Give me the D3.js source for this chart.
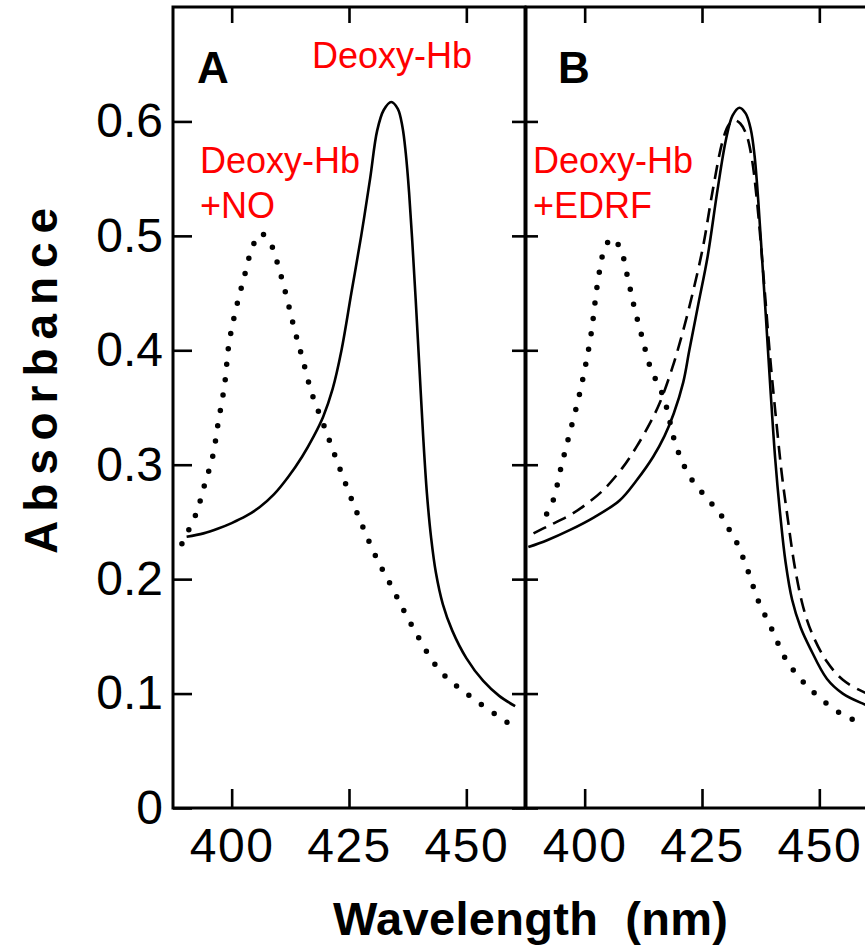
<!DOCTYPE html>
<html>
<head>
<meta charset="utf-8">
<script src="https://cdn.jsdelivr.net/npm/d3@7"></script>
<style>
  html, body { margin: 0; padding: 0; background: #fff; }
  svg { display: block; }
</style>
</head>
<body>
<svg id="chart" width="865" height="947"></svg>
<script>
// ---- Data ----
const xTicks = [400, 425, 450];
const yTicks = [0, 0.1, 0.2, 0.3, 0.4, 0.5, 0.6];
const xDomain = [387.5, 462.5];
const yDomain = [0, 0.7];

// Panel A: Deoxy-Hb (solid)
const deoxyA = [
  [390.4,0.237],[394.0,0.240],[397.0,0.244],[400.0,0.249],[403.0,0.255],[406.0,0.263],
  [409.0,0.274],[412.0,0.289],[415.0,0.307],[417.5,0.325],[419.5,0.342],[421.5,0.366],
  [423.4,0.400],[425.5,0.450],[427.6,0.500],[429.5,0.550],[431.0,0.592],[432.4,0.610],
  [434.0,0.617],[435.4,0.611],[436.4,0.595],[437.1,0.572],[437.8,0.538],[438.5,0.494],
  [439.2,0.445],[440.0,0.385],[440.8,0.325],[441.6,0.275],[442.5,0.236],[443.5,0.206],
  [445.0,0.178],[447.0,0.155],[450.0,0.131],[453.6,0.111],[457.0,0.098],[460.4,0.089]
];
// Panel A: Deoxy-Hb + NO (dotted)
const noA = [
  [389.4,0.231],[392.4,0.257],[394.2,0.282],[396.0,0.308],[397.1,0.336],[398.5,0.370],
  [399.4,0.405],[400.8,0.434],[402.6,0.463],[404.5,0.491],[406.2,0.502],[408.2,0.494],
  [410.1,0.471],[411.8,0.445],[413.4,0.418],[415.2,0.391],[417.1,0.362],[419.5,0.336],
  [423.0,0.297],[426.9,0.256],[430.8,0.219],[434.0,0.194],[439.0,0.155],[444.4,0.120],
  [451.0,0.097],[460.8,0.069]
];
// Panel B: Deoxy-Hb (solid)
const deoxyB = [
  [388.0,0.228],[392.0,0.234],[396.9,0.243],[402.0,0.254],[407.5,0.269],[411.0,0.286],
  [414.6,0.307],[417.0,0.325],[419.0,0.345],[421.0,0.372],[422.3,0.400],[424.2,0.440],
  [426.2,0.482],[428.3,0.540],[430.1,0.584],[431.5,0.605],[432.95,0.612],[434.3,0.607],
  [435.4,0.593],[436.2,0.570],[437.0,0.530],[437.8,0.480],[438.6,0.430],[439.6,0.365],
  [440.6,0.305],[441.7,0.255],[442.8,0.215],[444.2,0.182],[446.0,0.158],[448.0,0.140],
  [451.6,0.113],[455.0,0.100],[459.4,0.091],[462.0,0.087]
];
// Panel B: second Deoxy-Hb trace (dashed)
const dashedB = [
  [389.1,0.240],[392.5,0.247],[396.9,0.256],[400.5,0.266],[404.0,0.278],[408.0,0.297],
  [411.1,0.316],[414.0,0.337],[416.1,0.355],[418.7,0.385],[420.5,0.410],[422.3,0.438],
  [425.1,0.488],[427.3,0.540],[429.4,0.583],[430.7,0.597],[431.9,0.601],[433.2,0.598],
  [434.5,0.588],[435.6,0.568],[436.6,0.535],[437.5,0.495],[438.4,0.450],[439.6,0.390],
  [440.9,0.335],[442.0,0.292],[443.2,0.255],[444.8,0.210],[446.6,0.175],[448.5,0.152],
  [451.6,0.128],[455.0,0.112],[459.6,0.101],[462.0,0.098]
];
// Panel B: Deoxy-Hb + EDRF (dotted)
const edrfB = [
  [391.9,0.257],[393.3,0.269],[395.1,0.300],[396.9,0.329],[398.7,0.358],[400.1,0.385],
  [401.4,0.415],[402.8,0.460],[404.2,0.488],[405.8,0.498],[407.6,0.489],[409.2,0.463],
  [410.6,0.437],[412.2,0.412],[414.0,0.385],[416.8,0.359],[419.6,0.315],[422.5,0.289],
  [426.4,0.269],[428.9,0.257],[430.7,0.244],[432.5,0.231],[434.9,0.206],[437.0,0.181],
  [439.9,0.156],[443.0,0.129],[447.3,0.107],[452.6,0.088],[456.2,0.079],[459.5,0.074]
];

const panelLabels = ["A", "B"];
const labelA1 = "Deoxy-Hb";
const labelA2 = ["Deoxy-Hb", "+NO"];
const labelB = ["Deoxy-Hb", "+EDRF"];
const yTitle = "Absorbance";
const xTitle = "Wavelength\u00a0\u00a0(nm)";

// ---- Layout ----
const svg = d3.select("#chart");
const plotTop = 7, plotBottom = 808;
const panels = [
  { left: 173, right: 525, showY: true },
  { left: 526, right: 878, showY: false }
];
const y = d3.scaleLinear().domain(yDomain).range([plotBottom, plotTop]);
const FONT = "'Liberation Sans', Arial, Helvetica, sans-serif";

const line = (x) => d3.line()
  .x(d => x(d[0])).y(d => y(d[1]))
  .curve(d3.curveCatmullRom.alpha(0.5));

panels.forEach((p, i) => {
  const x = d3.scaleLinear().domain(xDomain).range([p.left, p.right]);
  p.x = x;
  const g = svg.append("g");

  const bottomAxis = d3.axisBottom(x).tickValues(xTicks).tickSizeInner(-19).tickSizeOuter(0).tickPadding(20);
  const topAxis = d3.axisTop(x).tickValues(xTicks).tickSizeInner(-16).tickSizeOuter(0).tickFormat("");
  const leftAxis = d3.axisLeft(y).tickValues(yTicks).tickSizeInner(i === 0 ? -19 : -12).tickSizeOuter(0).tickPadding(10)
      .tickFormat(d => d === 0 ? "0" : d3.format(".1f")(d));
  const rightAxis = d3.axisRight(y).tickValues(yTicks).tickSizeInner(-13).tickSizeOuter(0).tickFormat("");

  const gb = g.append("g").attr("transform", `translate(0,${plotBottom})`).call(bottomAxis);
  const gt = g.append("g").attr("transform", `translate(0,${plotTop})`).call(topAxis);
  const gl = g.append("g").attr("transform", `translate(${p.left},0)`).call(leftAxis);
  const gr = g.append("g").attr("transform", `translate(${p.right},0)`).call(rightAxis);
  if (!p.showY) gl.selectAll("text").remove();

  [gb, gt, gl, gr].forEach(a => {
    a.select(".domain").remove();
    a.selectAll("line").attr("stroke", "#000").attr("stroke-width", 2.6);
    a.selectAll("text").attr("font-family", FONT).attr("font-size", 48).attr("fill", "#000");
  });
  gb.selectAll("text").attr("letter-spacing", 1.5);

  g.append("rect")
    .attr("x", p.left).attr("y", plotTop)
    .attr("width", p.right - p.left).attr("height", plotBottom - plotTop)
    .attr("fill", "none").attr("stroke", "#000").attr("stroke-width", 3);

  g.append("text")
    .attr("x", i === 0 ? 197 : 558).attr("y", 83)
    .attr("font-family", FONT).attr("font-weight", "bold").attr("font-size", 44)
    .text(panelLabels[i]);
});

const xA = panels[0].x, xB = panels[1].x;

function solid(data, x) {
  svg.append("path").datum(data).attr("d", line(x))
    .attr("fill", "none").attr("stroke", "#000").attr("stroke-width", 2.6);
}
function dotted(data, x) {
  svg.append("path").datum(data).attr("d", line(x))
    .attr("fill", "none").attr("stroke", "#000").attr("stroke-width", 5.5)
    .attr("stroke-linecap", "round").attr("stroke-dasharray", "0,15.5");
}
function dashed(data, x) {
  svg.append("path").datum(data).attr("d", line(x))
    .attr("fill", "none").attr("stroke", "#000").attr("stroke-width", 2.6)
    .attr("stroke-dasharray", "14,8");
}
solid(deoxyA, xA);
dotted(noA, xA);
solid(deoxyB, xB);
dashed(dashedB, xB);
dotted(edrfB, xB);

function redText(lines, xPos, y0) {
  const t = svg.append("text").attr("font-family", FONT).attr("font-size", 36).attr("fill", "#ff0000");
  lines.forEach((s, k) => t.append("tspan").attr("x", xPos).attr("y", y0 + k * 45).text(s));
}
redText([labelA1], 312, 68);
redText(labelA2, 200, 173);
redText(labelB, 533, 173);

svg.append("text")
  .attr("transform", "translate(57,381) rotate(-90)")
  .attr("text-anchor", "middle")
  .attr("font-family", FONT).attr("font-weight", "bold").attr("font-size", 46)
  .attr("textLength", 346).attr("lengthAdjust", "spacing")
  .text(yTitle);

svg.append("text")
  .attr("x", 333).attr("y", 935)
  .attr("font-family", FONT).attr("font-weight", "bold").attr("font-size", 47)
  .attr("textLength", 395).attr("lengthAdjust", "spacing")
  .text(xTitle);
</script>
</body>
</html>
